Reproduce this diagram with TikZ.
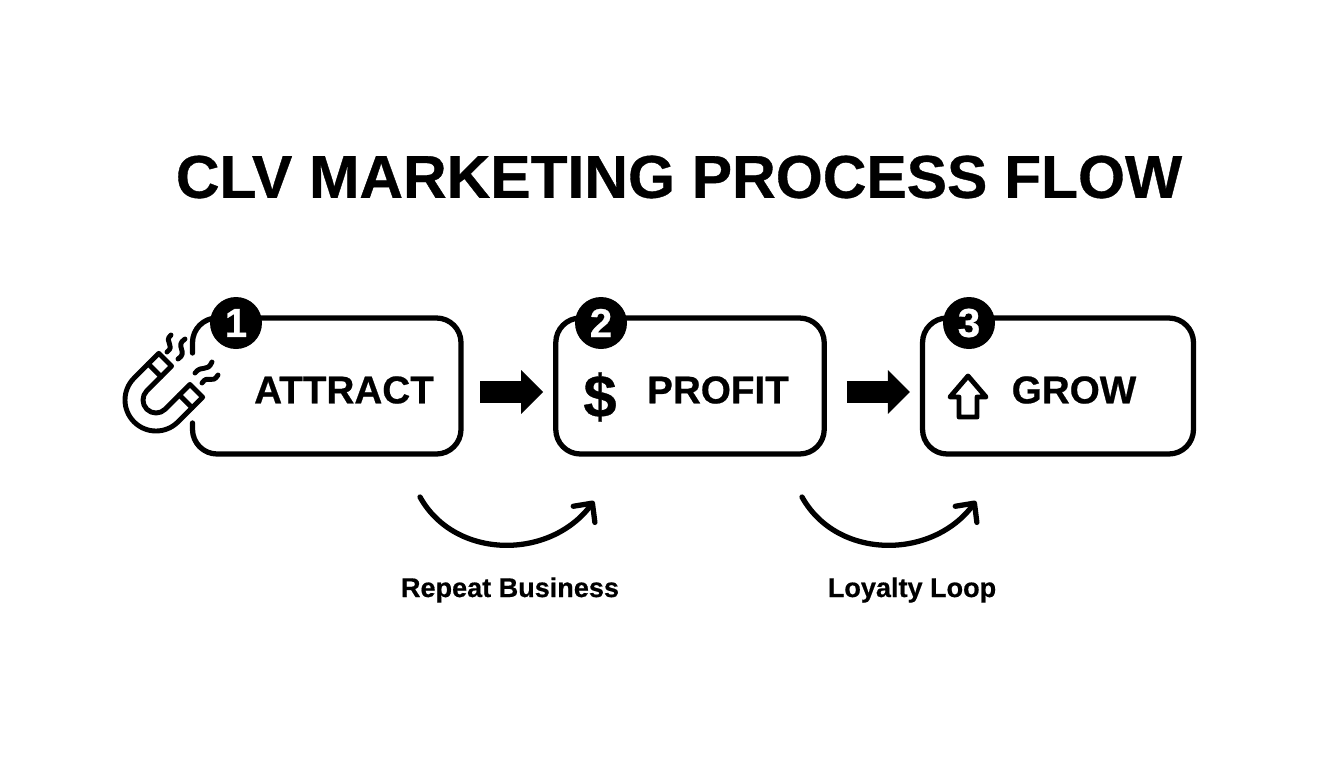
\documentclass[tikz,border=0pt]{standalone}
\usepackage{fontspec}
\setmainfont{Liberation Sans}[BoldFeatures={FakeBold=0.6}]
\usetikzlibrary{arrows.meta}
\tikzset{
  stagebox/.style={draw, line width=3pt, rounded corners=14pt, minimum width=5.37cm, minimum height=2.72cm, inner sep=0pt},
  stagelabel/.style={font=\fontsize{22}{26}\selectfont\bfseries, inner sep=0pt},
  badge/.style={circle, fill=black, text=white, minimum size=1.04cm, inner sep=0pt, font=\fontsize{23}{27}\selectfont\bfseries},
  looplabel/.style={font=\fontsize{15.4}{19}\selectfont\bfseries, inner sep=0pt},
  blockarrow/.style={line width=12.5pt, -{Triangle[length=12.5pt, width=25pt, line width=0pt, sep=0pt]}},
  looparrow/.style={line width=3pt, line cap=round, -{Straight Barb[length=2.8mm, width=5.4mm, round]}},
  iconline/.style={line width=2.8pt, line join=round, line cap=round}
}
\begin{document}
\begin{tikzpicture}[x=0.02cm, y=0.02cm]
\useasboundingbox (0,0) rectangle (1344,-768);
\node [font=\fontsize{34.4}{40}\selectfont\bfseries, inner sep=0pt] (title) at (679,-177) {CLV MARKETING PROCESS FLOW};
\node [stagebox, draw=none] (attract) at (327,-386) {};
\node [stagebox] (profit) at (690,-386) {};
\node [stagebox, minimum width=5.42cm] (grow) at (1058,-386) {};
\draw [line width=3pt, line cap=round, rounded corners=14pt] (192.5,-353) -- (192.5,-318) -- (461,-318) -- (461,-454) -- (192.5,-454) -- (192.5,-423);
\node [badge] (one) at (236,-323) {1};
\node [badge] (two) at (601,-323) {2};
\node [badge] (three) at (969,-323) {3};
\node [stagelabel] (attracttext) at (344,-390) {ATTRACT};
\node [stagelabel] (profittext) at (718,-390) {PROFIT};
\node [stagelabel] (growtext) at (1074,-390) {GROW};
\node [font=\fontsize{34}{38}\selectfont\bfseries, inner sep=0pt] (dollar) at (600,-397) {\$};
\draw [blockarrow, shorten <=0.33cm, shorten >=0.2cm] ([yshift=-1.2mm]attract.east) -- ([yshift=-1.2mm]profit.west);
\draw [blockarrow, shorten <=0.4cm, shorten >=0.2cm] ([yshift=-1.2mm]profit.east) -- ([yshift=-1.2mm]grow.west);
\draw [iconline] (968,-376) -- (986,-397) -- (977,-397) -- (977,-417) -- (959,-417) -- (959,-397) -- (950,-397) -- cycle;
\begin{scope}[shift={(156,-400)}, rotate=45]
\draw [iconline] (35,31) -- (0,31) arc (90:270:31) -- (35,-31) -- (35,-13) -- (0,-13) arc (270:90:13) -- (35,13) -- cycle;
\draw [iconline] (20,31) -- (20,13);
\draw [iconline] (20,-31) -- (20,-13);
\end{scope}
\draw [iconline] (171,-335) .. controls (163,-342) and (176,-345) .. (167,-352);
\draw [iconline] (185,-339) .. controls (174,-346) and (189,-352) .. (178,-359);
\draw [iconline] (212,-362) .. controls (207,-373) and (202,-364) .. (195,-373);
\draw [iconline] (218,-375) .. controls (212,-385) and (208,-374) .. (202,-383);
\coordinate (repeatfrom) at (420,-497);
\coordinate (repeatto) at (594,-501);
\coordinate (loyaltyfrom) at (802,-497);
\coordinate (loyaltyto) at (976,-501);
\draw [looparrow] (repeatfrom) .. controls (455,-560) and (550,-560) .. (repeatto);
\draw [looparrow] (loyaltyfrom) .. controls (837,-560) and (932,-560) .. (loyaltyto);
\node [looplabel] (repeatlabel) at (510,-590) {Repeat Business};
\node [looplabel] (loyaltylabel) at (912,-590) {Loyalty Loop};
\end{tikzpicture}
\end{document}
